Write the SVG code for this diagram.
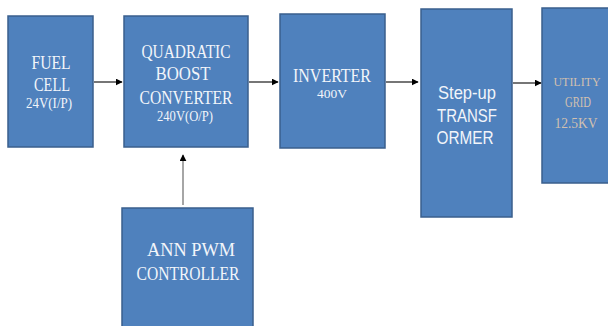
<svg xmlns="http://www.w3.org/2000/svg" width="608" height="326" viewBox="0 0 608 326">
<defs>
<style>
.box{fill:#4f81bd;stroke:#3a5f8d;stroke-width:1.5}
.t{fill:#f2f5fa;font-family:"Liberation Serif","DejaVu Serif",serif;text-anchor:middle}
.s{fill:#f2f5fa;font-family:"Liberation Sans","DejaVu Sans",sans-serif;text-anchor:middle}
.g{fill:#d2c0b0;font-family:"Liberation Serif","DejaVu Serif",serif;text-anchor:middle}
.c{stroke:#1a1a1a;stroke-width:1.2;fill:none;marker-end:url(#ah)}
.cv{stroke:#888;stroke-width:1.5;fill:none;marker-end:url(#ah)}
</style>
<marker id="ah" viewBox="0 0 10 10" refX="9" refY="5" markerWidth="7" markerHeight="7" markerUnits="userSpaceOnUse" orient="auto">
<path d="M0,0 L10,5 L0,10 z" fill="#000"/>
</marker>
</defs>
<rect width="608" height="326" fill="#fff"/>
<g id="fuel-cell">
<rect class="box" x="8" y="16" width="85" height="131"/>
<text class="t" x="51" y="69" font-size="18" textLength="39" lengthAdjust="spacingAndGlyphs">FUEL</text>
<text class="t" x="52" y="91" font-size="18" textLength="36" lengthAdjust="spacingAndGlyphs">CELL</text>
<text class="t" x="49" y="108" font-size="14" textLength="46" lengthAdjust="spacingAndGlyphs">24V(I/P)</text>
</g>
<g id="quadratic-boost-converter">
<rect class="box" x="124" y="16" width="124" height="131"/>
<text class="t" x="186" y="58" font-size="19" textLength="89" lengthAdjust="spacingAndGlyphs">QUADRATIC</text>
<text class="t" x="183" y="80" font-size="19" textLength="55" lengthAdjust="spacingAndGlyphs">BOOST</text>
<text class="t" x="186" y="104" font-size="19" textLength="93" lengthAdjust="spacingAndGlyphs">CONVERTER</text>
<text class="t" x="185" y="121" font-size="14" textLength="56" lengthAdjust="spacingAndGlyphs">240V(O/P)</text>
</g>
<g id="inverter">
<rect class="box" x="280" y="14" width="105" height="134"/>
<text class="t" x="332" y="82" font-size="19" textLength="78" lengthAdjust="spacingAndGlyphs">INVERTER</text>
<text class="t" x="332" y="98" font-size="13" textLength="30" lengthAdjust="spacingAndGlyphs">400V</text>
</g>
<g id="step-up-transformer">
<rect class="box" x="421" y="9" width="91" height="208"/>
<text class="s" x="467" y="99" font-size="19" textLength="58" lengthAdjust="spacingAndGlyphs">Step-up</text>
<text class="s" x="467" y="122" font-size="19" textLength="60" lengthAdjust="spacingAndGlyphs">TRANSF</text>
<text class="s" x="465" y="144" font-size="19" textLength="57" lengthAdjust="spacingAndGlyphs">ORMER</text>
</g>
<g id="utility-grid">
<rect class="box" x="542" y="8" width="72" height="175"/>
<text class="g" x="577" y="86" font-size="13" textLength="47" lengthAdjust="spacingAndGlyphs">UTILITY</text>
<text class="g" x="578" y="107" font-size="14" textLength="26" lengthAdjust="spacingAndGlyphs">GRID</text>
<text class="g" x="576" y="128" font-size="14" textLength="43" lengthAdjust="spacingAndGlyphs">12.5KV</text>
</g>
<g id="ann-pwm-controller">
<rect class="box" x="122" y="208" width="131" height="125"/>
<text class="t" x="191" y="256" font-size="19" textLength="88" lengthAdjust="spacingAndGlyphs">ANN PWM</text>
<text class="t" x="188" y="280" font-size="19" textLength="103" lengthAdjust="spacingAndGlyphs">CONTROLLER</text>
</g>
<g id="connectors">
<line class="c" x1="94" y1="82" x2="122" y2="82"/>
<line class="c" x1="249" y1="82" x2="278" y2="82"/>
<line class="c" x1="386" y1="82" x2="418" y2="82"/>
<line class="c" x1="513" y1="83" x2="541" y2="83"/>
<line class="cv" x1="183" y1="205" x2="183" y2="155"/>
</g>
</svg>
